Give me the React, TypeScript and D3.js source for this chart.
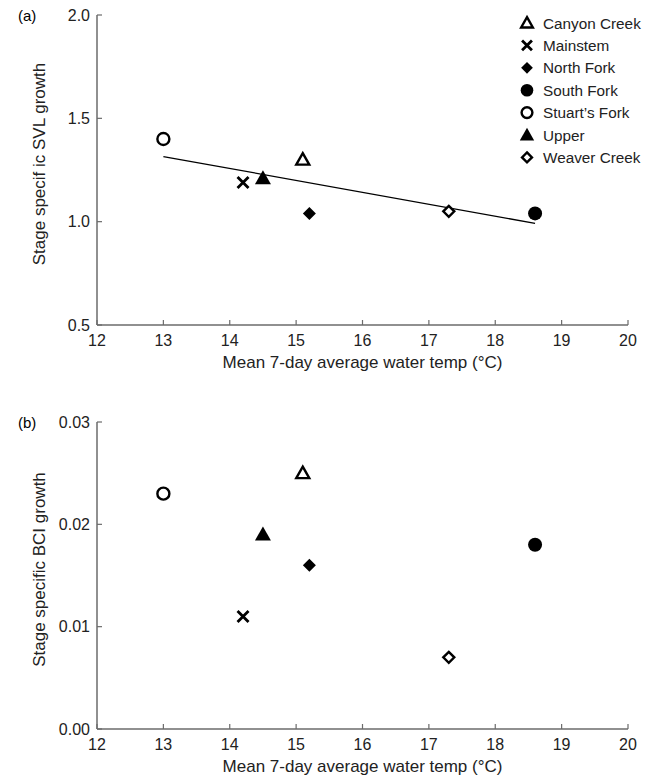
import * as d3 from "d3";

const sites = ["Canyon Creek", "Mainstem", "North Fork", "South Fork", "Stuart\u2019s Fork", "Upper", "Weaver Creek"];
const markers = ["triOpen", "cross", "diamond", "dot", "circleOpen", "tri", "diamondOpen"];
const temp = [15.1, 14.2, 15.2, 18.6, 13.0, 14.5, 17.3];
const svlGrowth = [1.3, 1.19, 1.04, 1.04, 1.4, 1.21, 1.05];
const bciGrowth = [0.025, 0.011, 0.016, 0.018, 0.023, 0.019, 0.007];
const xTicks = [12, 13, 14, 15, 16, 17, 18, 19, 20];
const svlTicks = [0.5, 1.0, 1.5, 2.0];
const bciTicks = [0.0, 0.01, 0.02, 0.03];

const FONT = "'Liberation Sans', Arial, Helvetica, sans-serif";
const AXIS = "#6b6b6b";

function Marker({ kind, x, y, s = 1 }: { kind: string; x: number; y: number; s?: number }) {
  const sw = 2.4;
  switch (kind) {
    case "triOpen":
      return <path d={`M${x},${y - 6.5 * s}L${x + 6.5 * s},${y + 5 * s}L${x - 6.5 * s},${y + 5 * s}Z`} fill="white" stroke="black" strokeWidth={sw} strokeLinejoin="miter" />;
    case "tri":
      return <path d={`M${x},${y - 8 * s}L${x + 8 * s},${y + 6 * s}L${x - 8 * s},${y + 6 * s}Z`} fill="black" />;
    case "cross":
      return (
        <path d={`M${x - 5.5 * s},${y - 5.5 * s}L${x + 5.5 * s},${y + 5.5 * s}M${x + 5.5 * s},${y - 5.5 * s}L${x - 5.5 * s},${y + 5.5 * s}`} stroke="black" strokeWidth={2.8} />
      );
    case "diamond":
      return <path d={`M${x},${y - 6.5 * s}L${x + 6.5 * s},${y}L${x},${y + 6.5 * s}L${x - 6.5 * s},${y}Z`} fill="black" />;
    case "diamondOpen":
      return <path d={`M${x},${y - 5.5 * s}L${x + 5.5 * s},${y}L${x},${y + 5.5 * s}L${x - 5.5 * s},${y}Z`} fill="white" stroke="black" strokeWidth={sw} />;
    case "dot":
      return <circle cx={x} cy={y} r={7 * s} fill="black" />;
    case "circleOpen":
      return <circle cx={x} cy={y} r={6 * s} fill="white" stroke="black" strokeWidth={sw} />;
    default:
      return null;
  }
}

interface PanelProps {
  tag: string;
  values: number[];
  yDomain: [number, number];
  yTop: number;
  yBottom: number;
  yTicks: number[];
  fmt: string;
  yTitle: string;
  fit?: boolean;
}

function Panel({ tag, values, yDomain, yTop, yBottom, yTicks, fmt, yTitle, fit }: PanelProps) {
  const x = d3.scaleLinear().domain([12, 20]).range([97, 628]);
  const y = d3.scaleLinear().domain(yDomain).range([yBottom, yTop]);
  const f = d3.format(fmt);

  let fitLine: string | null = null;
  if (fit) {
    // least squares through the seven sites
    const mx = d3.mean(temp)!;
    const my = d3.mean(values)!;
    const sxy = d3.sum(temp, (t, i) => (t - mx) * (values[i] - my));
    const sxx = d3.sum(temp, (t) => (t - mx) ** 2);
    const b = sxy / sxx;
    const a = my - b * mx;
    const [x0, x1] = d3.extent(temp) as [number, number];
    fitLine = d3.line<number>().x((t) => x(t)).y((t) => y(a + b * t))([x0, x1]);
  }

  const midY = (yTop + yBottom) / 2 - 6;
  return (
    <g fontFamily={FONT}>
      <text x={18} y={yTop + 6} fontSize={15} textAnchor="start">{tag}</text>
      <line x1={x(12)} x2={x(12)} y1={yTop} y2={yBottom} stroke={AXIS} strokeWidth={1.5} />
      <line x1={x(12)} x2={x(20)} y1={yBottom} y2={yBottom} stroke={AXIS} strokeWidth={1.5} />
      {yTicks.map((t) => (
        <g key={t}>
          <line x1={x(12)} x2={x(12) + 5} y1={y(t)} y2={y(t)} stroke={AXIS} strokeWidth={1.2} />
          <text x={90} y={y(t) + 5.5} fontSize={16} textAnchor="end" fill="#222">{f(t)}</text>
        </g>
      ))}
      {xTicks.map((t) => (
        <g key={t}>
          <line x1={x(t)} x2={x(t)} y1={yBottom} y2={yBottom - 5} stroke={AXIS} strokeWidth={1.2} />
          <text x={x(t)} y={yBottom + 21} fontSize={16} textAnchor="middle" fill="#222">{t}</text>
        </g>
      ))}
      <text x={x(16)} y={yBottom + 43} fontSize={17} textAnchor="middle" fill="#222">
        Mean 7-day average water temp (°C)
      </text>
      <text transform={`translate(45,${midY}) rotate(-90)`} fontSize={17} textAnchor="middle" fill="#222">
        {yTitle}
      </text>
      {fitLine && <path d={fitLine} fill="none" stroke="black" strokeWidth={1.3} />}
      {temp.map((t, i) => (
        <Marker key={sites[i]} kind={markers[i]} x={x(t)} y={y(values[i])} />
      ))}
    </g>
  );
}

export default function App() {
  return (
    <div style={{ position: "absolute", left: 0, top: 0, background: "white" }}>
      <svg width={664} height={782} style={{ display: "block" }}>
        <rect width={664} height={782} fill="white" />
        <Panel tag="(a)" values={svlGrowth} yDomain={[0.5, 2.0]} yTop={15} yBottom={325} yTicks={svlTicks} fmt=".1f" yTitle="Stage specif ic SVL growth" fit />
        <Panel tag="(b)" values={bciGrowth} yDomain={[0, 0.03]} yTop={422} yBottom={729} yTicks={bciTicks} fmt=".2f" yTitle="Stage specific BCI growth" />
        <g fontFamily={FONT}>
          {sites.map((s, i) => (
            <g key={s}>
              <Marker kind={markers[i]} x={527} y={23 + i * 22.4} s={0.9} />
              <text x={543} y={23 + i * 22.4 + 5.5} fontSize={15.3} fill="#222">{s}</text>
            </g>
          ))}
        </g>
      </svg>
    </div>
  );
}
